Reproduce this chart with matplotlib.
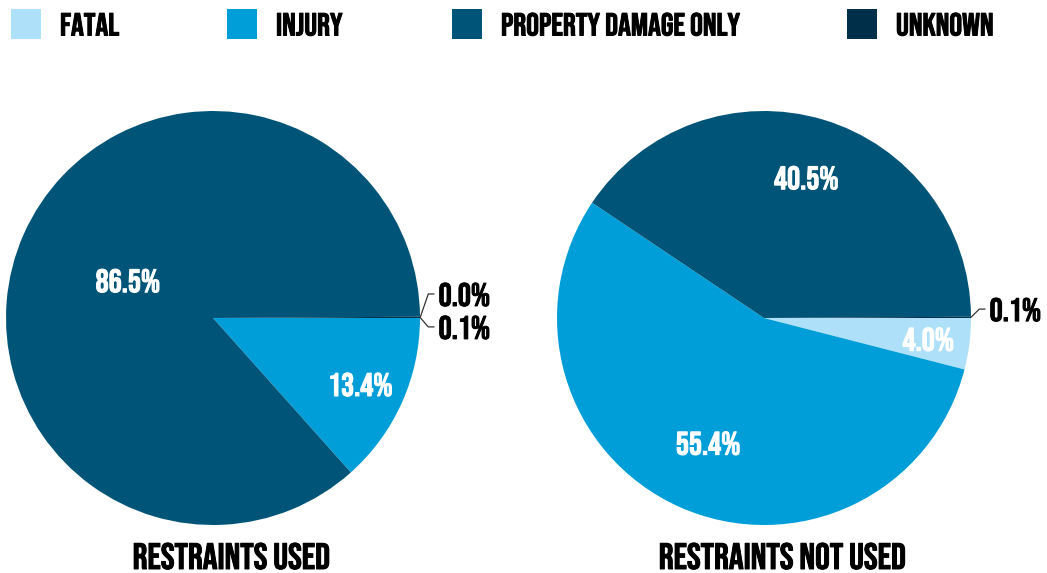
import matplotlib
matplotlib.use("Agg")
import matplotlib.pyplot as plt
from matplotlib.patches import Rectangle
from matplotlib import font_manager as fm
import matplotlib.patheffects as pe
import numpy as np

categories = ["FATAL", "INJURY", "PROPERTY DAMAGE ONLY", "UNKNOWN"]
colors = ["#aee1f9", "#009ed9", "#005478", "#003049"]
restraints_used = [0.0, 13.4, 86.5, 0.1]
restraints_not_used = [4.0, 55.4, 40.5, 0.1]
titles = ["RESTRAINTS USED", "RESTRAINTS NOT USED"]

font = 'DejaVu Sans'
for cand in ['Bebas Neue', 'Oswald', 'Barlow Condensed']:
    try:
        fm.findfont(fm.FontProperties(family=cand), fallback_to_default=False)
        font = cand
        break
    except Exception:
        pass
plt.rcParams['font.family'] = [font, 'DejaVu Sans']
WEIGHT = 'normal' if font == 'Bebas Neue' else 'bold'

def bold(color):
    return [pe.withStroke(linewidth=0.7, foreground=color)]

W, H = 1047, 573
fig = plt.figure(figsize=(W / 100, H / 100), dpi=100)

R = 207
centers = [(213, 318), (764, 318)]
inside_dist = [[0.8, 0.78, 0.45, 0.7], [0.8, 0.66, 0.71, 0.7]]
outside = [{0: 0.116, 3: -0.043}, {3: 0.043}]
FS = 23.5

def add_pie(idx, values):
    cx, cy = centers[idx]
    ax = fig.add_axes([(cx - R) / W, (H - cy - R) / H, 2 * R / W, 2 * R / H])
    wedges, _ = ax.pie(values, colors=colors, startangle=0, counterclock=False,
                       radius=1, wedgeprops=dict(linewidth=0))
    ax.set_xlim(-1, 1)
    ax.set_ylim(-1, 1)
    ax.set_aspect('equal')
    ax.axis('off')
    for i, (w, v) in enumerate(zip(wedges, values)):
        mid = np.deg2rad((w.theta1 + w.theta2) / 2)
        lab = f"{v:.1f}%"
        if i in outside[idx]:
            ex, ey = np.cos(mid), np.sin(mid)
            dy = outside[idx][i]
            ax.plot([ex, 1.04, 1.07], [ey, dy, dy], color="#333333", lw=0.9,
                    clip_on=False, solid_capstyle='butt')
            ax.text(1.09, dy, lab, ha='left', va='center', fontsize=FS,
                    fontweight=WEIGHT, color='black', clip_on=False,
                    path_effects=bold('black'))
        else:
            d = inside_dist[idx][i]
            ax.text(d * np.cos(mid), d * np.sin(mid), lab, ha='center', va='center',
                    fontsize=FS, fontweight=WEIGHT, color='white',
                    path_effects=bold('white'))
    fig.text((cx + 18) / W, 1 - 556 / H, titles[idx], ha='center', va='center',
             fontsize=26.5, fontweight=WEIGHT, color='black',
             path_effects=bold('black'))

add_pie(0, restraints_used)
add_pie(1, restraints_not_used)

leg_x = [11, 227, 452, 847]
for x, c, name in zip(leg_x, colors, categories):
    fig.add_artist(Rectangle((x / W, 1 - 39 / H), 30 / W, 30 / H,
                             transform=fig.transFigure, facecolor=c, edgecolor='none'))
    fig.text((x + 49) / W, 1 - 24 / H, name, ha='left', va='center',
             fontsize=23, fontweight=WEIGHT, color='black',
             path_effects=bold('black'))

fig.savefig("out.png", dpi=100)
